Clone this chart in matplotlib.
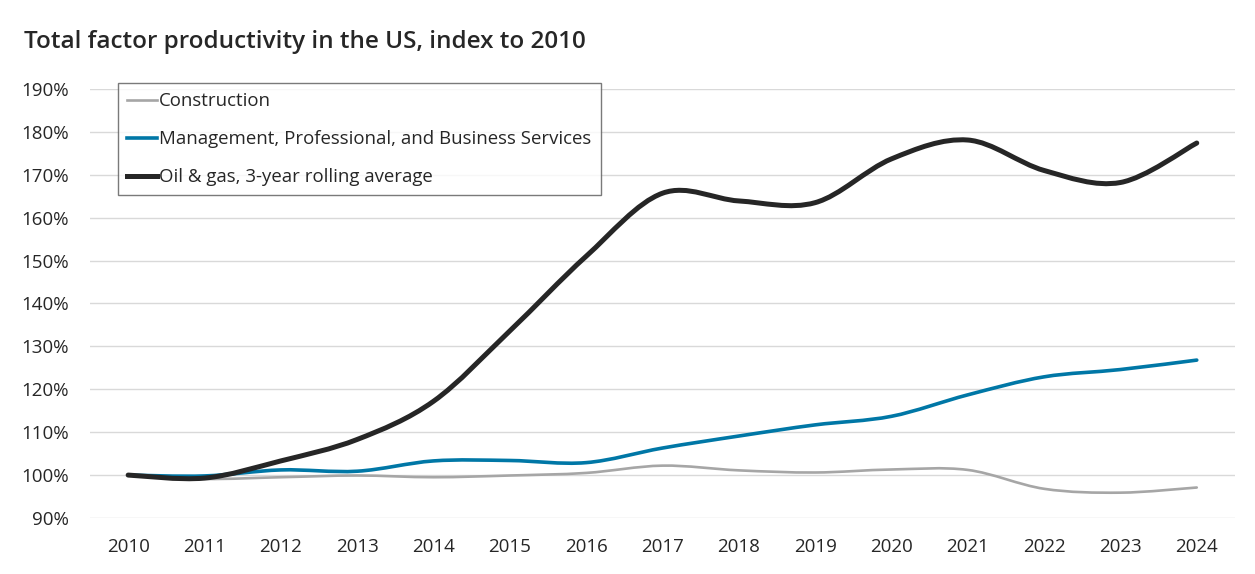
import matplotlib
matplotlib.use("Agg")
import matplotlib.pyplot as plt
from matplotlib.path import Path
from matplotlib.patches import PathPatch
from matplotlib.lines import Line2D
from matplotlib.ticker import FuncFormatter

plt.rcParams['font.family'] = ['Open Sans', 'DejaVu Sans']

# Data (index, 2010 = 100)
years = [2010, 2011, 2012, 2013, 2014, 2015, 2016, 2017,
         2018, 2019, 2020, 2021, 2022, 2023, 2024]
construction = [100.0, 99.1, 99.5, 99.9, 99.5, 99.9, 100.5, 102.2,
                101.1, 100.6, 101.3, 101.2, 96.8, 95.9, 97.1]
mgmt_services = [100.0, 99.8, 101.2, 100.9, 103.3, 103.4, 102.9, 106.3,
                 109.1, 111.7, 113.7, 118.7, 122.9, 124.6, 126.8]
oil_gas = [100.0, 99.3, 103.3, 108.3, 117.2, 133.6, 151.0, 165.7,
           163.9, 163.5, 173.7, 178.1, 171.0, 168.2, 177.4]

labels = ['Construction',
          'Management, Professional, and Business Services',
          'Oil & gas, 3-year rolling average']
colors = ['#a6a6a6', '#0077a6', '#262626']
widths = [1.9, 2.6, 3.6]


def smooth_path(xs, ys):
    # Excel-style smoothed line: cubic bezier segments through each point
    verts = [(xs[0], ys[0])]
    codes = [Path.MOVETO]
    n = len(xs)
    for i in range(n - 1):
        x0, y0 = (xs[i - 1], ys[i - 1]) if i > 0 else (xs[i], ys[i])
        x1, y1 = xs[i], ys[i]
        x2, y2 = xs[i + 1], ys[i + 1]
        x3, y3 = (xs[i + 2], ys[i + 2]) if i + 2 < n else (x2, y2)
        c1 = (x1 + (x2 - x0) / 6.0, y1 + (y2 - y0) / 6.0)
        c2 = (x2 - (x3 - x1) / 6.0, y2 - (y3 - y1) / 6.0)
        verts += [c1, c2, (x2, y2)]
        codes += [Path.CURVE4] * 3
    return Path(verts, codes)


fig = plt.figure(figsize=(12.55, 5.74), dpi=100)
ax = fig.add_axes([0.0717, 0.0976, 0.9123, 0.7474])

for series, col, lw in zip([construction, mgmt_services, oil_gas], colors, widths):
    patch = PathPatch(smooth_path(years, series), facecolor='none',
                      edgecolor=col, linewidth=lw, capstyle='round',
                      joinstyle='round', zorder=3)
    ax.add_patch(patch)

ax.set_xlim(2009.5, 2024.5)
ax.set_ylim(90, 190)
ax.set_xticks(years)
ax.set_yticks(range(90, 191, 10))
ax.yaxis.set_major_formatter(FuncFormatter(lambda v, p: '%d%%' % v))

ax.grid(axis='y', color='#d9d9d9', linewidth=1.0)
ax.set_axisbelow(True)
for s in ax.spines.values():
    s.set_visible(False)
ax.tick_params(axis='both', length=0, labelsize=13.5, colors='#262626')
ax.tick_params(axis='y', pad=15)
ax.tick_params(axis='x', pad=14.5)

handles = [Line2D([], [], color=c, linewidth=w) for c, w in zip(colors, widths)]
leg = fig.legend(handles, labels, loc='upper left',
                 bbox_to_anchor=(118 / 1255, 1 - 83 / 574),
                 fontsize=13.4, frameon=True, fancybox=False,
                 edgecolor='#595959', handlelength=1.6, handletextpad=0.1,
                 labelspacing=1.07, borderpad=0.5, borderaxespad=0)
leg.get_frame().set_linewidth(1.0)
for t in leg.get_texts():
    t.set_color('#262626')

fig.text(24 / 1255, 1 - 42 / 574, 'Total factor productivity in the US, index to 2010',
         fontsize=17.5, fontweight='semibold', color='#262626', va='center', ha='left')

fig.savefig('out.png', dpi=100)
